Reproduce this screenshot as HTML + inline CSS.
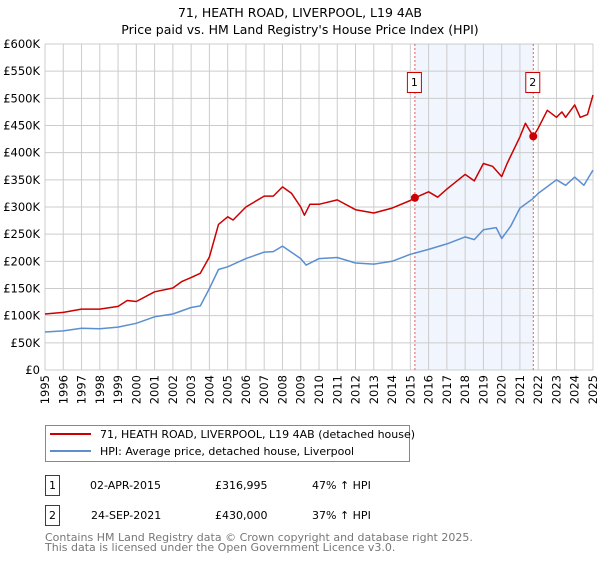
<!DOCTYPE html>
<html><head><meta charset="utf-8"><style>
body{margin:0;background:#fff;font-family:"DejaVu Sans","Liberation Sans",sans-serif;}
svg text{font-family:"DejaVu Sans","Liberation Sans",sans-serif;}
</style></head><body>
<svg id="chart" width="600" height="560" xmlns="http://www.w3.org/2000/svg">
<text x="300" y="17" text-anchor="middle" font-size="12.5" fill="#000">71, HEATH ROAD, LIVERPOOL, L19 4AB</text>
<text x="300" y="34" text-anchor="middle" font-size="12.5" fill="#000">Price paid vs. HM Land Registry's House Price Index (HPI)</text>
<g id="plot"></g>
<g>
<rect x="45.5" y="425.5" width="364" height="36" fill="#fff" stroke="#888"/>
<line x1="50" y1="434" x2="91" y2="434" stroke="#cc0000" stroke-width="2"/>
<text x="100" y="438" font-size="11">71, HEATH ROAD, LIVERPOOL, L19 4AB (detached house)</text>
<line x1="50" y1="451" x2="91" y2="451" stroke="#5b8fd0" stroke-width="2"/>
<text x="100" y="455" font-size="11">HPI: Average price, detached house, Liverpool</text>
</g>
<g font-size="11">
<rect x="45.5" y="475.5" width="14" height="20" fill="#fff" stroke="#cc0000"/>
<text x="52.5" y="489" text-anchor="middle">1</text>
<text x="90" y="489">02-APR-2015</text>
<text x="215" y="489">£316,995</text>
<text x="312" y="489">47% ↑ HPI</text>
<rect x="45.5" y="505.5" width="14" height="20" fill="#fff" stroke="#cc0000"/>
<text x="52.5" y="519" text-anchor="middle">2</text>
<text x="91" y="519">24-SEP-2021</text>
<text x="215" y="519">£430,000</text>
<text x="312" y="519">37% ↑ HPI</text>
</g>
<text x="45" y="541" font-size="11" fill="#777">Contains HM Land Registry data © Crown copyright and database right 2025.</text>
<text x="45" y="551" font-size="11" fill="#777">This data is licensed under the Open Government Licence v3.0.</text>
</svg>
<script>
const hpiYears=[1995,1996,1997,1998,1999,2000,2001,2002,2003,2003.5,2004,2004.5,2005,2006,2007,2007.5,2008,2009,2009.3,2010,2011,2012,2013,2014,2015,2016,2017,2018,2018.5,2019,2019.7,2020,2020.5,2021,2021.7,2022,2023,2023.5,2024,2024.5,2025];
const hpiValues=[70,72,77,76,79,86,98,103,115,118,150,185,190,205,217,218,228,205,193,205,207,197,195,200,213,222,232,245,240,258,262,242,265,298,315,325,350,340,355,340,368];
const priceYears=[1995,1996,1997,1998,1999,1999.5,2000,2001,2002,2002.5,2003,2003.5,2004,2004.5,2005,2005.3,2006,2007,2007.5,2008,2008.5,2009,2009.2,2009.5,2010,2011,2012,2013,2014,2015,2015.25,2016,2016.5,2017,2018,2018.5,2019,2019.5,2020,2020.3,2021,2021.3,2021.73,2022,2022.5,2023,2023.3,2023.5,2024,2024.3,2024.7,2025];
const priceValues=[103,106,112,112,117,128,126,144,151,163,170,178,208,268,282,276,300,320,320,337,325,300,285,305,305,313,295,289,298,312,317,328,318,333,360,348,380,375,356,380,429,454,430,445,478,465,475,465,488,465,470,506];
const saleYears=[2015.25,2021.73];
const saleValues=[316.995,430];
const saleLabels=["1","2"];
const yTicks=[0,50,100,150,200,250,300,350,400,450,500,550,600];
const yTickLabels=["£0","£50K","£100K","£150K","£200K","£250K","£300K","£350K","£400K","£450K","£500K","£550K","£600K"];
const xTicks=[1995,1996,1997,1998,1999,2000,2001,2002,2003,2004,2005,2006,2007,2008,2009,2010,2011,2012,2013,2014,2015,2016,2017,2018,2019,2020,2021,2022,2023,2024,2025];

const NS="http://www.w3.org/2000/svg";
const X0=45,X1=593,Y0=370,Y1=44;
const xs=y=>X0+(y-1995)/30*(X1-X0);
const ys=v=>Y0-v/600*(Y0-Y1);
const plot=document.getElementById('plot');
function mk(tag,attrs){const e=document.createElementNS(NS,tag);for(const k in attrs)e.setAttribute(k,attrs[k]);plot.appendChild(e);return e;}
// shaded band
let band=mk('rect',{x:xs(saleYears[0]),y:Y1,width:xs(saleYears[1])-xs(saleYears[0]),height:Y0-Y1,fill:'#eef3fc',opacity:0.8});


// grid
yTicks.forEach((t,i)=>{
 let l=mk('line',{x1:X0,x2:X1,y1:ys(t),y2:ys(t),stroke:'#ccc','stroke-width':1});
 
 
 let tx=mk('text',{x:40,y:ys(t)+4,'text-anchor':'end','font-size':11.5,fill:'#000'});
 tx.textContent=yTickLabels[i];
 
 
});
xTicks.forEach(t=>{
 let l=mk('line',{x1:xs(t),x2:xs(t),y1:Y1,y2:Y0,stroke:'#ccc','stroke-width':1});
 
 
 let tx=mk('text',{x:0,y:0,'text-anchor':'end','font-size':11.5,fill:'#000',transform:`translate(${xs(t)+4},375) rotate(-90)`});
 tx.textContent=t;
 
 
});
// sale vlines
saleYears.forEach((y,i)=>{
 let l=mk('line',{x1:xs(y),x2:xs(y),y1:Y1,y2:Y0,stroke:'#e06060','stroke-width':1,'stroke-dasharray':'2,2'});
 
 
});
function path(xsA,vs,color,name){
 let d=xsA.map((y,i)=>(i?'L':'M')+xs(y).toFixed(1)+','+ys(vs[i]).toFixed(1)).join('');
 let p=mk('path',{d:d,fill:'none',stroke:color,'stroke-width':1.5,'stroke-linejoin':'round'});
 
 
}
path(hpiYears,hpiValues,'#5b8fd0','hpi-line');
path(priceYears,priceValues,'#cc0000','price-line');
saleYears.forEach((y,i)=>{
 let c=mk('circle',{cx:xs(y),cy:ys(saleValues[i]),r:4,fill:'#cc0000'});
 
 
 let bx=xs(y)-7;
 let r=mk('rect',{x:bx-0.5,y:72.5,width:14,height:20,fill:'#fff',stroke:'#cc0000'});
 
 
 let t=mk('text',{x:xs(y)-0.5,y:86,'text-anchor':'middle','font-size':11});
 t.textContent=saleLabels[i];
 
 
});
</script>
</body></html>
